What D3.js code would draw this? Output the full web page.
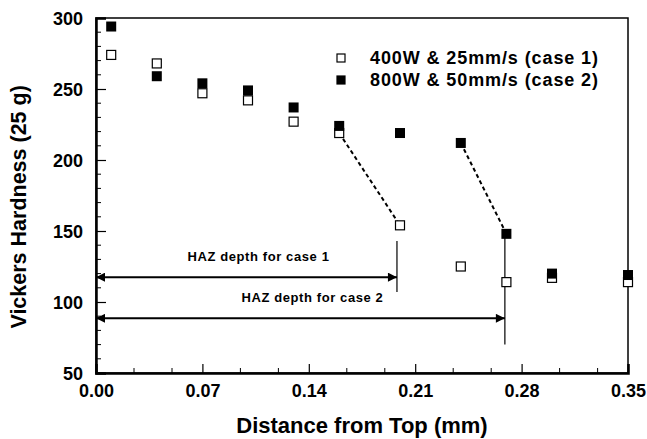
<!DOCTYPE html>
<html>
<head>
<meta charset="utf-8">
<script src="https://cdn.jsdelivr.net/npm/d3@7"></script>
<style>
  body { margin: 0; background: #fff; }
  svg { display: block; font-family: Arial, "Liberation Sans", sans-serif; font-weight: bold; }
</style>
</head>
<body>
<div id="chart"></div>
<script>
const width = 647;
const height = 439;
const margin = {top: 18, right: 19, bottom: 66, left: 96};

// depth (mm) for each indent
const depths = [0.01, 0.04, 0.07, 0.10, 0.13, 0.16, 0.20, 0.24, 0.27, 0.30, 0.35];
const case1 = [274, 268, 247, 242, 227, 219, 154, 125, 114, 117, 114];
const case2 = [294, 259, 254, 249, 237, 224, 219, 212, 148, 120, 119];
const seriesNames = ['400W & 25mm/s (case 1)', '800W & 50mm/s (case 2)'];

const xTicks = [0.00, 0.07, 0.14, 0.21, 0.28, 0.35];
const yTicks = [50, 100, 150, 200, 250, 300];

// HAZ annotations: depth and height of arrow
const hazDepths = [0.198, 0.269];
const hazArrowY = [117.5, 88.5];
const hazLabels = ['HAZ depth for case 1', 'HAZ depth for case 2'];
const hazLineSpan = [[143, 107], [145, 70]];

const svg = d3.select('#chart')
  .append('svg')
  .attr('width', width)
  .attr('height', height);

const x = d3.scaleLinear().domain([0, 0.35]).range([margin.left, width - margin.right]);
const y = d3.scaleLinear().domain([50, 300]).range([height - margin.bottom, margin.top]);

const defs = svg.append('defs');
defs.append('marker')
  .attr('id', 'arrow')
  .attr('viewBox', '0 -5 10 10')
  .attr('refX', 10)
  .attr('markerUnits', 'userSpaceOnUse')
  .attr('markerWidth', 13)
  .attr('markerHeight', 9)
  .attr('orient', 'auto-start-reverse')
  .append('path')
  .attr('d', 'M0,-5L10,0L0,5Z')
  .style('fill', '#000');

// minor ticks
const xMinor = [];
xTicks.slice(0, -1).forEach(function(t) { xMinor.push(t + 0.025, t + 0.05); });
const yMinor = d3.range(60, 300, 10).filter(function(v) { return v % 50 !== 0; });

const xAxis = d3.axisBottom(x).tickValues(xTicks).tickFormat(d3.format('.2f')).tickSize(-9).tickPadding(8);
const yAxis = d3.axisLeft(y).tickValues(yTicks).tickFormat(d3.format('d')).tickSize(-10).tickPadding(13);

// frame (top and right)
svg.append('rect')
  .attr('x', x(0))
  .attr('y', y(300))
  .attr('width', x(0.35) - x(0))
  .attr('height', y(50) - y(300))
  .style('fill', 'none')
  .style('stroke', '#000')
  .style('stroke-width', 1.5);

svg.append('g')
  .selectAll('line')
  .data(xMinor)
  .enter().append('line')
  .attr('x1', function(d) { return x(d); })
  .attr('x2', function(d) { return x(d); })
  .attr('y1', y(50))
  .attr('y2', y(50) - 5)
  .style('stroke', '#000');

svg.append('g')
  .selectAll('line')
  .data(yMinor)
  .enter().append('line')
  .attr('x1', x(0))
  .attr('x2', x(0) + 5)
  .attr('y1', function(d) { return y(d); })
  .attr('y2', function(d) { return y(d); })
  .style('stroke', '#000');

const gx = svg.append('g')
  .attr('transform', 'translate(0,' + y(50) + ')')
  .call(xAxis);
const gy = svg.append('g')
  .attr('transform', 'translate(' + x(0) + ',0)')
  .call(yAxis);

[gx, gy].forEach(function(g) {
  g.select('.domain').style('stroke-width', 2.5).style('stroke', '#000');
  g.selectAll('.tick line').style('stroke-width', 1.2);
  g.selectAll('.tick text')
    .style('font-size', '18px')
    .style('font-family', 'Arial, "Liberation Sans", sans-serif')
    .style('font-weight', 'bold')
    .style('fill', '#000');
});
gx.selectAll('.tick text').attr('dy', '0.9em');
gy.selectAll('.tick text').attr('dy', '0.35em');

// axis titles
svg.append('text')
  .attr('x', (x(0) + x(0.35)) / 2)
  .attr('y', 433)
  .attr('text-anchor', 'middle')
  .style('font-size', '22px')
  .text('Distance from Top (mm)');

svg.append('text')
  .attr('transform', 'translate(26,' + (y(167)) + ') rotate(-90)')
  .attr('text-anchor', 'middle')
  .style('font-size', '21.5px')
  .text('Vickers Hardness (25 g)');

// dashed guides
const dashSegs = [
  [depths[5], case1[5], depths[6], case1[6]],
  [depths[7], case2[7], depths[8], case2[8]]
];
svg.append('g')
  .selectAll('line')
  .data(dashSegs)
  .enter().append('line')
  .attr('x1', function(d) { return x(d[0]); })
  .attr('y1', function(d) { return y(d[1]); })
  .attr('x2', function(d) { return x(d[2]); })
  .attr('y2', function(d) { return y(d[3]); })
  .style('stroke', '#000')
  .style('stroke-width', 2)
  .style('stroke-dasharray', '4,3');

// HAZ markers
const haz = svg.append('g');
hazDepths.forEach(function(d, i) {
  haz.append('line')
    .attr('x1', x(0))
    .attr('x2', x(d))
    .attr('y1', y(hazArrowY[i]))
    .attr('y2', y(hazArrowY[i]))
    .attr('marker-start', 'url(#arrow)')
    .attr('marker-end', 'url(#arrow)')
    .style('stroke', '#000')
    .style('stroke-width', 2);
  haz.append('line')
    .attr('x1', x(d))
    .attr('x2', x(d))
    .attr('y1', y(hazLineSpan[i][0]))
    .attr('y2', y(hazLineSpan[i][1]))
    .style('stroke', '#000')
    .style('stroke-width', 1.2);
  haz.append('text')
    .attr('x', (x(0) + x(d)) / 2 + 12)
    .attr('y', y(hazArrowY[i]) - 16)
    .attr('text-anchor', 'middle')
    .style('font-size', '13px')
    .style('letter-spacing', '0.6px')
    .text(hazLabels[i]);
});

// points
const msize = 9;
svg.append('g')
  .selectAll('rect')
  .data(depths)
  .enter().append('rect')
  .attr('x', function(d) { return x(d) - msize / 2; })
  .attr('y', function(d, i) { return y(case1[i]) - msize / 2; })
  .attr('width', msize)
  .attr('height', msize)
  .style('fill', '#fff')
  .style('stroke', '#000')
  .style('stroke-width', 1.2);

svg.append('g')
  .selectAll('rect')
  .data(depths)
  .enter().append('rect')
  .attr('x', function(d) { return x(d) - (msize + 1) / 2; })
  .attr('y', function(d, i) { return y(case2[i]) - (msize + 1) / 2; })
  .attr('width', msize + 1)
  .attr('height', msize + 1)
  .style('fill', '#000');

// legend
const legend = svg.append('g').attr('transform', 'translate(341,58)');
seriesNames.forEach(function(name, i) {
  legend.append('rect')
    .attr('x', -4)
    .attr('y', i * 22 - 4)
    .attr('width', 8)
    .attr('height', 8)
    .style('fill', i === 0 ? '#fff' : '#000')
    .style('stroke', '#000')
    .style('stroke-width', 1.2);
  legend.append('text')
    .attr('x', 29)
    .attr('y', i * 22 + 6)
    .style('font-size', '18px')
    .style('letter-spacing', '0.9px')
    .text(name);
});
</script>
</body>
</html>
